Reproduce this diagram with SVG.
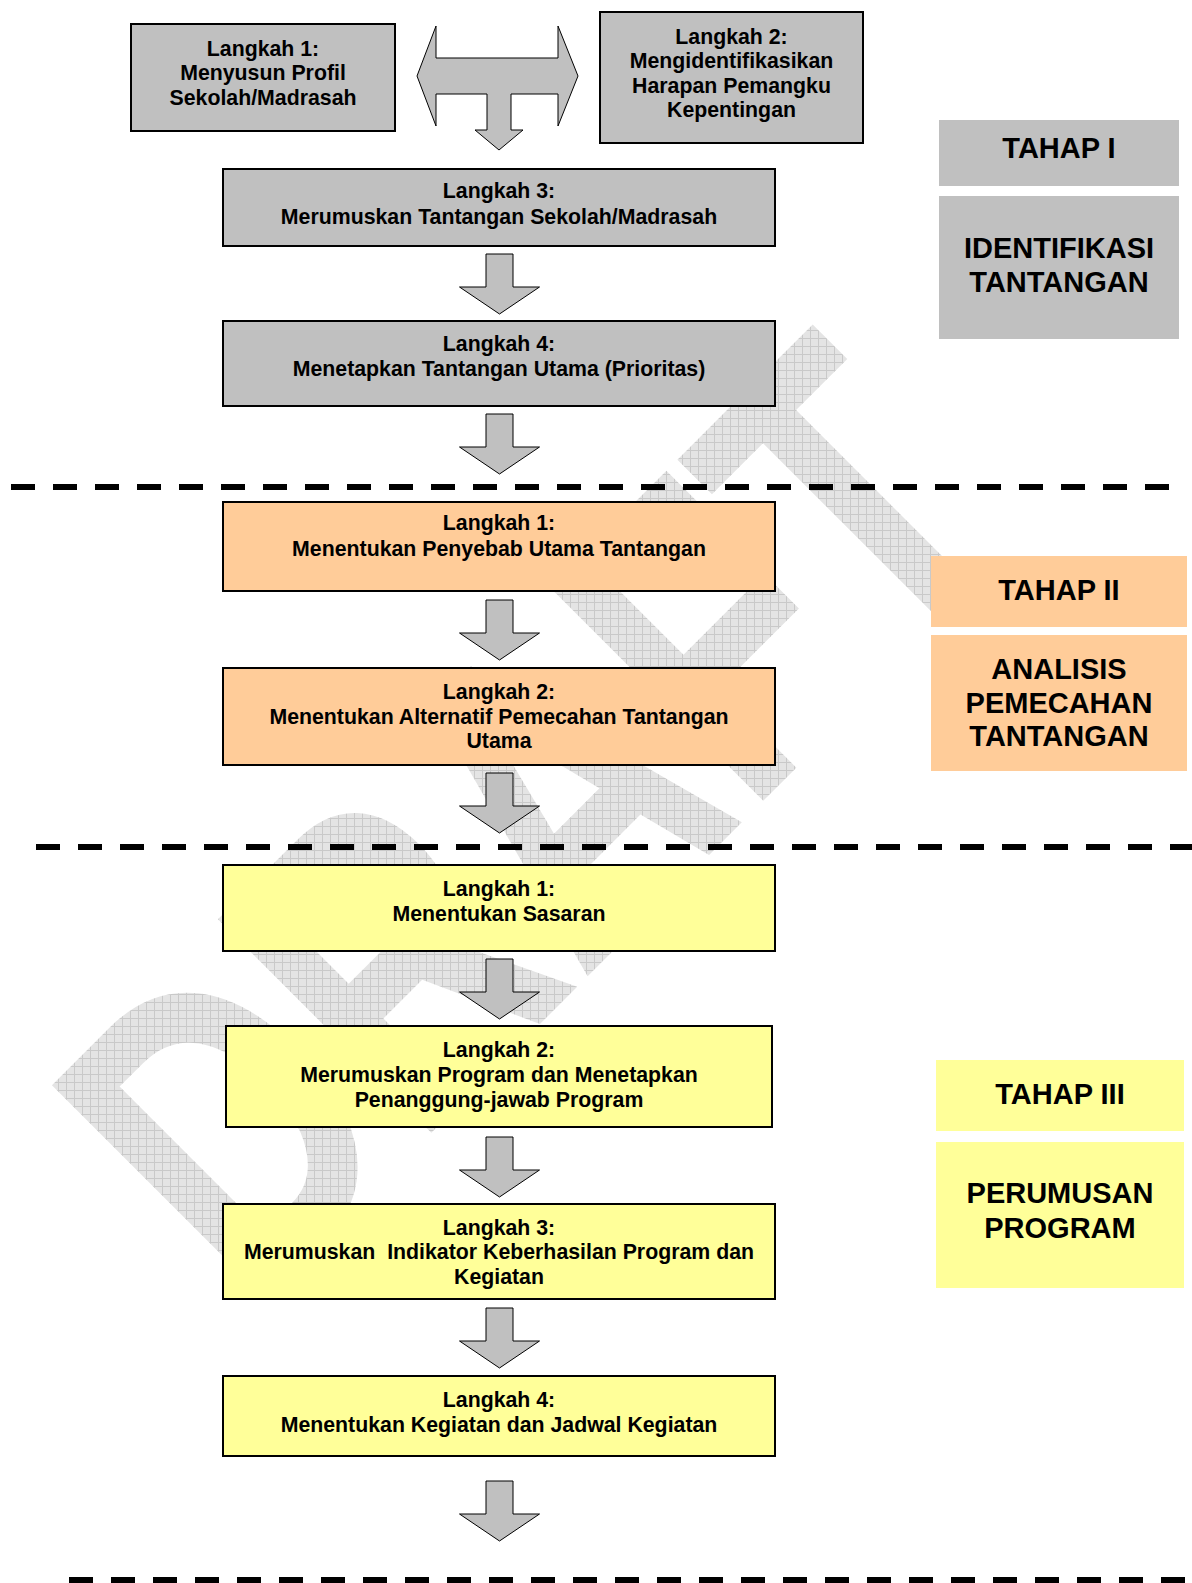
<svg xmlns="http://www.w3.org/2000/svg" width="1192" height="1583" viewBox="0 0 1192 1583">
<style>
.box{stroke:#000;stroke-width:2}
.gray{fill:#c0c0c0}
.orange{fill:#ffcc99}
.yellow{fill:#ffff99}
.t{font-family:"Liberation Sans",Arial,sans-serif;font-weight:bold;font-size:21.3px;text-anchor:middle;fill:#000}
.h{font-size:29px}
.arrow{fill:#c0c0c0;stroke:#000;stroke-width:1}
.dash{stroke:#000;stroke-width:6;stroke-dasharray:24 18;fill:none}
.wm{font-family:"Liberation Sans",Arial,sans-serif;font-weight:bold}
</style>
<defs>
<pattern id="hatch" patternUnits="userSpaceOnUse" width="8" height="8" patternTransform="scale(1,0.7407) rotate(45)">
<rect width="8" height="8" fill="#e4e4e4"/>
<path d="M0,0.5H8M0.5,0V8" stroke="#c9c9c9" stroke-width="1"/>
</pattern>
<path id="dn" d="M-13.5,0H13.5V33H40L0,60L-40,33H-13.5Z"/>
</defs>

<g id="watermark">
<text class="wm" transform="translate(250,1314) rotate(-45) scale(1,1.35)" font-size="325" fill="url(#hatch)">DRAFT</text>
</g>

<g id="separators">
<line class="dash" x1="11" y1="487" x2="1171" y2="487"/>
<line class="dash" x1="36" y1="847" x2="1192" y2="847"/>
<line class="dash" x1="69" y1="1580" x2="1192" y2="1580"/>
</g>

<g id="connectors">
<path class="arrow" d="M417,76L436,26V58H558V26L578,76L558,126V94H511V130H523L499,150L475,130H487V94H436V126Z"/>
<use href="#dn" class="arrow" x="499.5" y="254"/>
<use href="#dn" class="arrow" x="499.5" y="414"/>
<use href="#dn" class="arrow" x="499.5" y="600"/>
<use href="#dn" class="arrow" x="499.5" y="773"/>
<use href="#dn" class="arrow" x="499.5" y="959"/>
<use href="#dn" class="arrow" x="499.5" y="1137"/>
<use href="#dn" class="arrow" x="499.5" y="1308"/>
<use href="#dn" class="arrow" x="499.5" y="1481"/>
</g>

<g id="t1-step1">
<rect class="box gray" x="131" y="24" width="264" height="107"/>
<text class="t" x="263" y="56">Langkah 1:</text>
<text class="t" x="263" y="80">Menyusun Profil</text>
<text class="t" x="263" y="104.5">Sekolah/Madrasah</text>
</g>
<g id="t1-step2">
<rect class="box gray" x="600" y="12" width="263" height="131"/>
<text class="t" x="731.5" y="44">Langkah 2:</text>
<text class="t" x="731.5" y="68">Mengidentifikasikan</text>
<text class="t" x="731.5" y="92.5">Harapan Pemangku</text>
<text class="t" x="731.5" y="116.5">Kepentingan</text>
</g>
<g id="t1-step3">
<rect class="box gray" x="223" y="169" width="552" height="77"/>
<text class="t" x="499" y="198">Langkah 3:</text>
<text class="t" x="499" y="223.5">Merumuskan Tantangan Sekolah/Madrasah</text>
</g>
<g id="t1-step4">
<rect class="box gray" x="223" y="321" width="552" height="85"/>
<text class="t" x="499" y="350.5">Langkah 4:</text>
<text class="t" x="499" y="376">Menetapkan Tantangan Utama (Prioritas)</text>
</g>

<g id="t2-step1">
<rect class="box orange" x="223" y="502" width="552" height="89"/>
<text class="t" x="499" y="530">Langkah 1:</text>
<text class="t" x="499" y="556">Menentukan Penyebab Utama Tantangan</text>
</g>
<g id="t2-step2">
<rect class="box orange" x="223" y="668" width="552" height="97"/>
<text class="t" x="499" y="699">Langkah 2:</text>
<text class="t" x="499" y="724">Menentukan Alternatif Pemecahan Tantangan</text>
<text class="t" x="499" y="748">Utama</text>
</g>

<g id="t3-step1">
<rect class="box yellow" x="223" y="865" width="552" height="86"/>
<text class="t" x="499" y="895.5">Langkah 1:</text>
<text class="t" x="499" y="920.5">Menentukan Sasaran</text>
</g>
<g id="t3-step2">
<rect class="box yellow" x="226" y="1026" width="546" height="101"/>
<text class="t" x="499" y="1057">Langkah 2:</text>
<text class="t" x="499" y="1081.5">Merumuskan Program dan Menetapkan</text>
<text class="t" x="499" y="1106.5">Penanggung-jawab Program</text>
</g>
<g id="t3-step3">
<rect class="box yellow" x="223" y="1204" width="552" height="95"/>
<text class="t" x="499" y="1235">Langkah 3:</text>
<text class="t" x="499" y="1259" style="white-space:pre">Merumuskan  Indikator Keberhasilan Program dan</text>
<text class="t" x="499" y="1284">Kegiatan</text>
</g>
<g id="t3-step4">
<rect class="box yellow" x="223" y="1376" width="552" height="80"/>
<text class="t" x="499" y="1406.5">Langkah 4:</text>
<text class="t" x="499" y="1431.5">Menentukan Kegiatan dan Jadwal Kegiatan</text>
</g>

<g id="tahap1">
<rect class="gray" x="939" y="120" width="240" height="66"/>
<text class="t h" x="1059" y="158">TAHAP I</text>
</g>
<g id="tahap1-name">
<rect class="gray" x="939" y="196" width="240" height="143"/>
<text class="t h" x="1059" y="257.7">IDENTIFIKASI</text>
<text class="t h" x="1059" y="292">TANTANGAN</text>
</g>
<g id="tahap2">
<rect class="orange" x="931" y="556" width="256" height="71"/>
<text class="t h" x="1059" y="600">TAHAP II</text>
</g>
<g id="tahap2-name">
<rect class="orange" x="931" y="635" width="256" height="136"/>
<text class="t h" x="1059" y="678.5">ANALISIS</text>
<text class="t h" x="1059" y="713">PEMECAHAN</text>
<text class="t h" x="1059" y="746">TANTANGAN</text>
</g>
<g id="tahap3">
<rect class="yellow" x="936" y="1060" width="248" height="71"/>
<text class="t h" x="1060" y="1103.5">TAHAP III</text>
</g>
<g id="tahap3-name">
<rect class="yellow" x="936" y="1142" width="248" height="146"/>
<text class="t h" x="1060" y="1202.5">PERUMUSAN</text>
<text class="t h" x="1060" y="1238">PROGRAM</text>
</g>
</svg>
